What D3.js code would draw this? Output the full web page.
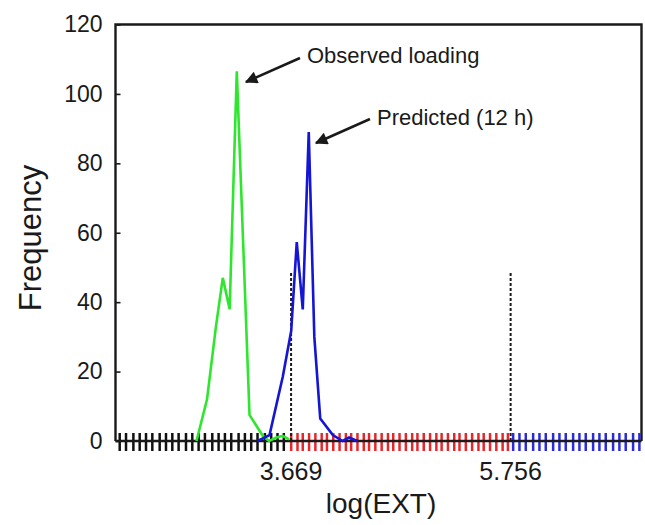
<!DOCTYPE html>
<html>
<head>
<meta charset="utf-8">
<script src="https://cdn.jsdelivr.net/npm/d3@7"></script>
<style>
  html, body { margin: 0; padding: 0; background: #fff; }
  svg { display: block; font-family: "Liberation Sans", Arial, sans-serif; }
</style>
</head>
<body>
<svg id="chart" width="645" height="525"></svg>
<script>
// ---- data ----
const yTicks = [0, 20, 40, 60, 80, 100, 120];
const xTickLabels = ["3.669", "5.756"];
const xTickValues = [3.669, 5.756];

const observedX = [2.77, 2.87, 2.955, 3.02, 3.085, 3.153, 3.274, 3.40, 3.46, 3.53, 3.59, 3.65];
const observedY = [0, 12, 33, 47, 38, 106.5, 7.5, 1.5, 0, 1, 1.5, 0.5];

const predictedX = [3.35, 3.464, 3.59, 3.67, 3.723, 3.78, 3.837, 3.89, 3.946, 4.066, 4.16, 4.22, 4.30];
const predictedY = [0, 1.7, 18.5, 31.7, 57.3, 37.9, 89, 30, 6.5, 1.7, 0, 1, 0];

const rugBlack = [2.04, 2.10, 2.17, 2.23, 2.29, 2.35, 2.42, 2.48, 2.54, 2.60, 2.67, 2.73, 2.79,
                  2.85, 2.92, 2.98, 3.04, 3.10, 3.17, 3.23, 3.29, 3.35, 3.42, 3.48, 3.54, 3.60];
const rugRed = [3.67, 3.73, 3.78, 3.84, 3.90, 3.96, 4.01, 4.07, 4.13, 4.19, 4.24, 4.30, 4.36,
                4.41, 4.47, 4.53, 4.59, 4.64, 4.70, 4.76, 4.82, 4.87, 4.93, 4.99, 5.05, 5.10,
                5.16, 5.22, 5.27, 5.33, 5.39, 5.45, 5.50, 5.56, 5.62, 5.68, 5.73];
const rugBlue = [5.78, 5.84, 5.90, 5.97, 6.03, 6.09, 6.16, 6.22, 6.28, 6.35, 6.41, 6.47, 6.54,
                 6.60, 6.66, 6.73, 6.79, 6.85, 6.92, 6.98];

const cutoffs = [3.669, 5.756];
const cutoffHeight = 49;

const annotations = [
  { text: "Observed loading", tx: 307, ty: 63, x1: 300, y1: 58, x2: 246, y2: 82 },
  { text: "Predicted (12 h)", tx: 377, ty: 125, x1: 370, y1: 119, x2: 316, y2: 143 }
];

// ---- layout ----
const pL = 115.5, pR = 641.5, pT = 24.5, pB = 441;
const svg = d3.select("#chart");

const x = d3.scaleLinear().domain([2, 7]).range([pL, pR]);
const y = d3.scaleLinear().domain([0, 120]).range([pB, pT]);

const ink = "#1a1a1a";

// defs: arrowhead
svg.append("defs").append("marker")
  .attr("id", "arrow")
  .attr("viewBox", "0 0 10 10")
  .attr("refX", 9).attr("refY", 5)
  .attr("markerWidth", 6).attr("markerHeight", 5)
  .attr("markerUnits", "strokeWidth")
  .attr("orient", "auto")
  .append("path").attr("d", "M0,0 L10,5 L0,10 Z").attr("fill", ink);

// frame: left, top, right
svg.append("path")
  .attr("d", `M${pL},${pB} L${pL},${pT} L${pR},${pT} L${pR},${pB}`)
  .attr("fill", "none").attr("stroke", ink).attr("stroke-width", 2.4);

// y axis ticks (inward) + labels
const yAxis = d3.axisLeft(y).tickValues(yTicks).tickSize(-5).tickPadding(13)
  .tickFormat(d3.format("d"));
const gy = svg.append("g").attr("transform", `translate(${pL},0)`).call(yAxis);
gy.select(".domain").remove();
gy.selectAll(".tick line").attr("stroke", ink).attr("stroke-width", 1.6);
gy.selectAll(".tick text").attr("font-size", 23).attr("fill", ink)
  .attr("font-family", "Liberation Sans, Arial, sans-serif");

// rug ticks
function rug(values, color) {
  svg.append("g").selectAll("line").data(values).join("line")
    .attr("x1", d => x(d)).attr("x2", d => x(d))
    .attr("y1", 433).attr("y2", 451)
    .attr("stroke", color).attr("stroke-width", 2.5);
}
rug(rugBlack, "#111");
rug(rugRed, "#e8262a");
rug(rugBlue, "#2a2ae0");

// baseline
svg.append("line")
  .attr("x1", pL).attr("x2", pR).attr("y1", pB).attr("y2", pB)
  .attr("stroke", ink).attr("stroke-width", 2.4);

// cutoff dashed lines
svg.append("g").selectAll("line").data(cutoffs).join("line")
  .attr("x1", d => x(d)).attr("x2", d => x(d))
  .attr("y1", y(0)).attr("y2", y(cutoffHeight))
  .attr("stroke", ink).attr("stroke-width", 2).attr("stroke-dasharray", "3,2");

// curves
const line = d3.line().x(d => x(d[0])).y(d => y(d[1]));
svg.append("path")
  .datum(d3.zip(observedX, observedY))
  .attr("d", line).attr("fill", "none")
  .attr("stroke", "#2ee62e").attr("stroke-width", 2.6).attr("stroke-linejoin", "miter");
svg.append("path")
  .datum(d3.zip(predictedX, predictedY))
  .attr("d", line).attr("fill", "none")
  .attr("stroke", "#1515d5").attr("stroke-width", 2.6).attr("stroke-linejoin", "miter");

// x tick labels
svg.append("g").selectAll("text").data(xTickValues).join("text")
  .attr("x", d => x(d)).attr("y", 480)
  .attr("text-anchor", "middle").attr("font-size", 25).attr("fill", ink)
  .text((d, i) => xTickLabels[i]);

// axis titles
svg.append("text")
  .attr("transform", "translate(41,238) rotate(-90)")
  .attr("text-anchor", "middle").attr("font-size", 31).attr("fill", ink)
  .text("Frequency");
svg.append("text")
  .attr("x", 381).attr("y", 513)
  .attr("text-anchor", "middle").attr("font-size", 28).attr("fill", ink)
  .text("log(EXT)");

// annotations
const ga = svg.append("g");
ga.selectAll("line").data(annotations).join("line")
  .attr("x1", d => d.x1).attr("y1", d => d.y1).attr("x2", d => d.x2).attr("y2", d => d.y2)
  .attr("stroke", ink).attr("stroke-width", 2.5).attr("marker-end", "url(#arrow)");
ga.selectAll("text").data(annotations).join("text")
  .attr("x", d => d.tx).attr("y", d => d.ty)
  .attr("font-size", 22).attr("fill", ink)
  .text(d => d.text);
</script>
</body>
</html>
